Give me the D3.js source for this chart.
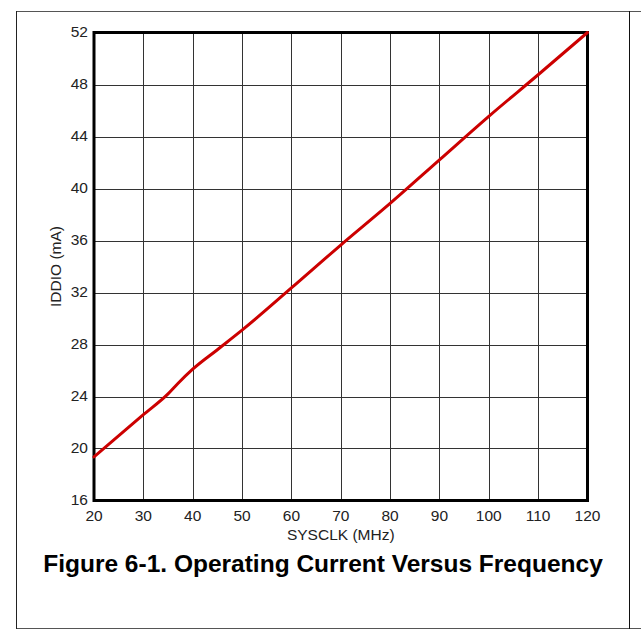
<!DOCTYPE html>
<html>
<head>
<meta charset="utf-8">
<script src="https://cdn.jsdelivr.net/npm/d3@7"></script>
<style>
  body { margin: 0; background: #fff; }
  svg { display: block; }
</style>
</head>
<body>
<svg id="chart" width="641" height="639"></svg>
<script>
// values
var freq = [20, 30, 35, 37, 40, 45, 50, 60, 70, 80, 90, 100, 110, 120];
var iddio = [19.35, 22.6, 24.2, 25.0, 26.1, 27.6, 29.1, 32.35, 35.65, 38.85, 42.2, 45.55, 48.75, 52.0];
var xTicks = [20, 30, 40, 50, 60, 70, 80, 90, 100, 110, 120];
var yTicks = [16, 20, 24, 28, 32, 36, 40, 44, 48, 52];

var svg = d3.select('#chart');
var font = 'Liberation Sans, Arial, sans-serif';

var x = d3.scaleLinear().domain([20, 120]).range([94, 587.5]);
var y = d3.scaleLinear().domain([16, 52]).range([500.5, 32.5]);

// page frame (table cell)
svg.append('line').attr('x1', 16).attr('x2', 641).attr('y1', 11.5).attr('y2', 11.5)
	.style('stroke', '#555').style('stroke-width', 1);
svg.append('line').attr('x1', 16).attr('x2', 641).attr('y1', 628.5).attr('y2', 628.5)
	.style('stroke', '#555').style('stroke-width', 1);
svg.append('line').attr('x1', 16.5).attr('x2', 16.5).attr('y1', 11).attr('y2', 629)
	.style('stroke', '#222').style('stroke-width', 1);
svg.append('line').attr('x1', 629.5).attr('x2', 629.5).attr('y1', 11).attr('y2', 629)
	.style('stroke', '#111').style('stroke-width', 1);

// grid
var grid = svg.append('g');
grid.selectAll('line.gx').data(xTicks).enter().append('line')
	.attr('x1', function(d) {return Math.round(x(d)) + 0.5})
	.attr('x2', function(d) {return Math.round(x(d)) + 0.5})
	.attr('y1', y(16)).attr('y2', y(52))
	.style('stroke', '#333').style('stroke-width', 1);
grid.selectAll('line.gy').data(yTicks).enter().append('line')
	.attr('y1', function(d) {return Math.round(y(d)) + 0.5})
	.attr('y2', function(d) {return Math.round(y(d)) + 0.5})
	.attr('x1', x(20)).attr('x2', x(120))
	.style('stroke', '#333').style('stroke-width', 1);

// frame
svg.append('rect')
	.attr('x', x(20)).attr('y', y(52))
	.attr('width', x(120) - x(20)).attr('height', y(16) - y(52))
	.style('fill', 'none').style('stroke', '#000').style('stroke-width', 3);

// tick labels
svg.selectAll('text.xt').data(xTicks).enter().append('text')
	.attr('x', function(d) {return x(d)})
	.attr('y', 521)
	.attr('text-anchor', 'middle')
	.style('font-family', font).style('font-size', '15.5px').style('fill', '#222')
	.text(function(d) {return d});
svg.selectAll('text.yt').data(yTicks).enter().append('text')
	.attr('x', 88)
	.attr('y', function(d) {return y(d) + 4})
	.attr('text-anchor', 'end')
	.style('font-family', font).style('font-size', '15.5px').style('fill', '#222')
	.text(function(d) {return d});

// axis titles
svg.append('text')
	.attr('x', (x(20) + x(120)) / 2).attr('y', 540)
	.attr('text-anchor', 'middle')
	.style('font-family', font).style('font-size', '15.5px').style('fill', '#222')
	.text('SYSCLK (MHz)');
svg.append('text')
	.attr('transform', 'translate(60.5,' + (y(16) + y(52)) / 2 + ') rotate(-90)')
	.attr('text-anchor', 'middle')
	.style('font-family', font).style('font-size', '15.5px').style('fill', '#222')
	.text('IDDIO (mA)');

// the curve
var line = d3.line()
	.x(function(d, i) {return x(freq[i])})
	.y(function(d) {return y(d)})
	.curve(d3.curveMonotoneX);
svg.append('path')
	.datum(iddio)
	.attr('d', line)
	.style('fill', 'none').style('stroke', '#cc0000').style('stroke-width', 3)
	.style('stroke-linecap', 'round');

// caption
svg.append('text')
	.attr('x', 323).attr('y', 572)
	.attr('text-anchor', 'middle')
	.style('font-family', font).style('font-size', '24.5px').style('font-weight', 'bold')
	.style('fill', '#000')
	.text('Figure 6-1. Operating Current Versus Frequency');
</script>
</body>
</html>
